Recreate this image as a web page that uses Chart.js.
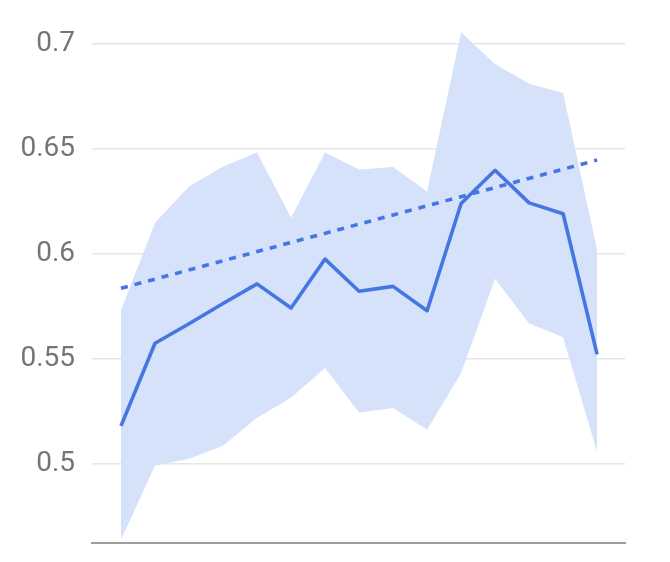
<!DOCTYPE html>
<html>
<head>
<meta charset="utf-8">
<script src="https://cdn.jsdelivr.net/npm/chart.js@4"></script>
<style>
html,body{margin:0;padding:0;background:#fff;}
#wrap{width:670px;height:562px;}
</style>
</head>
<body>
<div id="wrap"><canvas id="c" width="670" height="562"></canvas></div>
<script>
const xIndex = [0,1,2,3,4,5,6,7,8,9,10,11,12,13,14];
const meanValues = [0.5181,0.5575,0.5668,0.5764,0.5858,0.5743,0.5976,0.5823,0.5846,0.5730,0.6241,0.6399,0.6244,0.6192,0.5522];
const upperValues = [0.5732,0.6149,0.6322,0.6417,0.6484,0.6173,0.6484,0.6403,0.6415,0.6298,0.7057,0.6905,0.6812,0.6768,0.6020];
const lowerValues = [0.4638,0.4992,0.5024,0.5087,0.5220,0.5315,0.5457,0.5245,0.5266,0.5163,0.5433,0.5882,0.5669,0.5604,0.5057];
const trendX = [0,14];
const trendValues = [0.5837,0.6448];
const yTickValues = [0.5,0.55,0.6,0.65,0.7];
const yTickLabels = ['0.5','0.55','0.6','0.65','0.7'];

const pts = (xs, ys) => xs.map((x,i)=>({x:x,y:ys[i]}));

new Chart(document.getElementById('c'), {
  type: 'line',
  data: {
    datasets: [
      {data: pts(xIndex, meanValues), borderColor:'#4576e2', borderWidth:3.6, pointRadius:0, tension:0, fill:false, order:0, borderJoinStyle:'round'},
      {data: pts(trendX, trendValues), borderColor:'#4576e2', borderWidth:3.6, borderDash:[7,7], pointRadius:0, tension:0, fill:false, order:1},
      {data: pts(xIndex, upperValues), borderWidth:0, borderColor:'rgba(0,0,0,0)', backgroundColor:'#d6e2f9', pointRadius:0, tension:0, fill:3, order:2},
      {data: pts(xIndex, lowerValues), borderWidth:0, borderColor:'rgba(0,0,0,0)', pointRadius:0, tension:0, fill:false, order:3}
    ]
  },
  options: {
    responsive:false,
    animation:false,
    layout:{padding:{left:0,right:45,top:15,bottom:19}},
    plugins:{legend:{display:false},tooltip:{enabled:false}},
    scales:{
      x:{
        type:'linear', min:-0.853, max:14.82,
        ticks:{display:false},
        grid:{display:false, drawTicks:false},
        border:{display:true, color:'#9e9e9e', width:2},
        afterFit:(s)=>{s.height=0;}
      },
      y:{
        type:'linear', min:0.4623, max:0.7123,
        afterBuildTicks:(s)=>{s.ticks = yTickValues.map(v=>({value:v}));},
        ticks:{
          padding:17,
          color:'#757575',
          font:{family:'Roboto', size:28, lineHeight:0.1},
          callback:(v)=>{const i=yTickValues.indexOf(v); return i>=0?yTickLabels[i]:'';}
        },
        grid:{color:'#e6e6e6', lineWidth:1.5, drawTicks:false},
        border:{display:false},
        afterFit:(s)=>{s.width=92;}
      }
    }
  }
});
</script>
</body>
</html>
